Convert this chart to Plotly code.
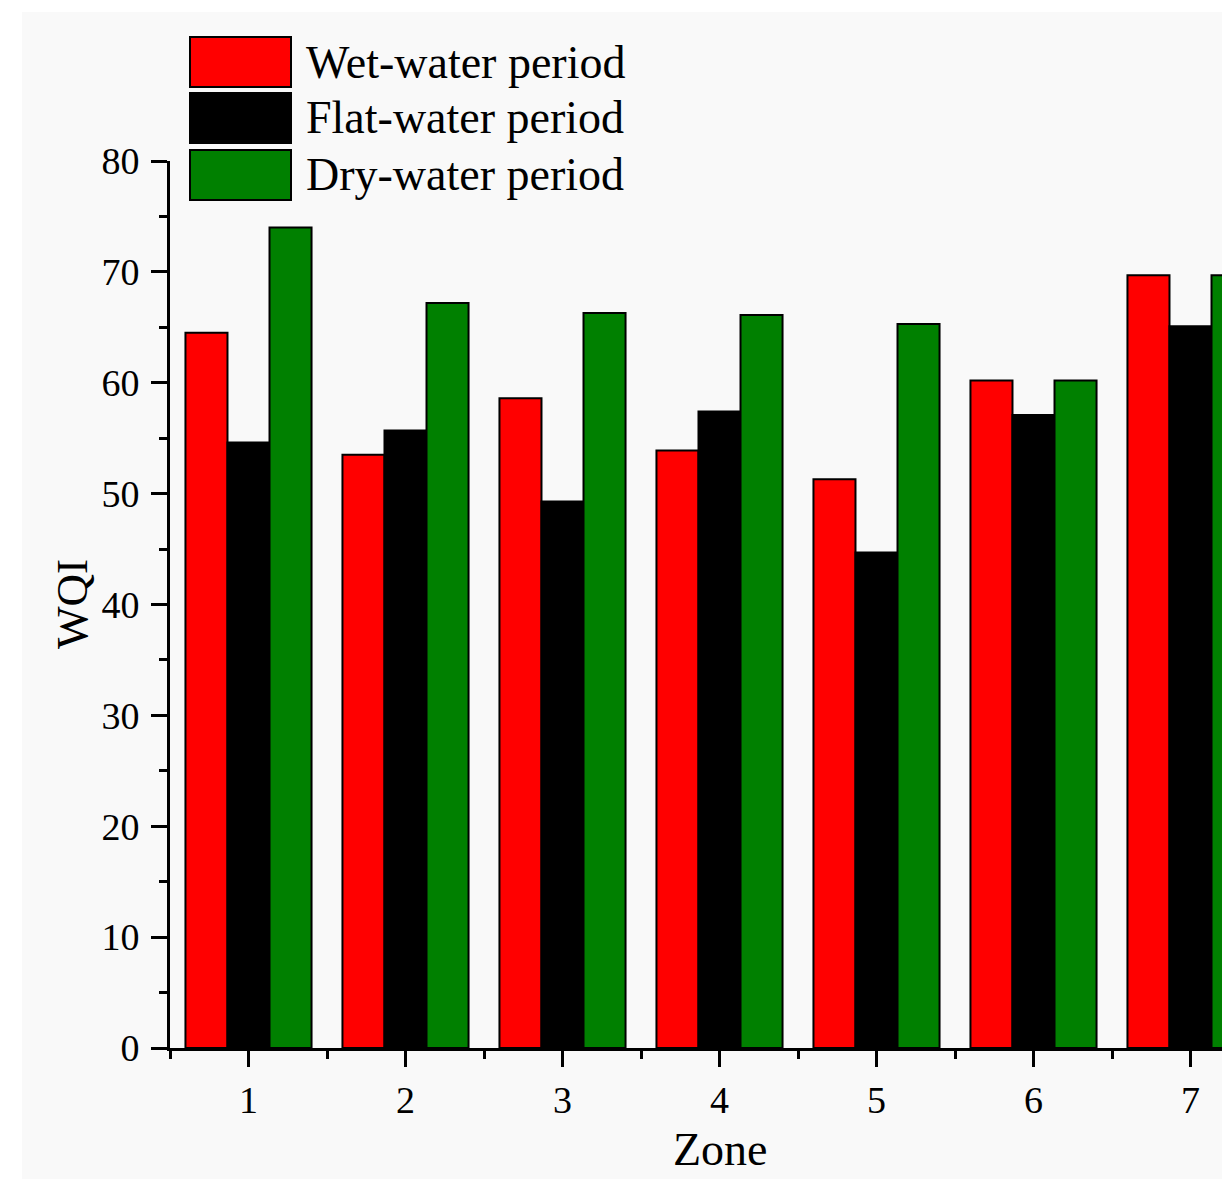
import plotly.graph_objects as go

# WQI per zone for the three hydrological periods
zones = [1, 2, 3, 4, 5, 6, 7]
wet_water = [64.5, 53.5, 58.6, 53.9, 51.3, 60.2, 69.7]
flat_water = [54.6, 55.7, 49.3, 57.4, 44.7, 57.1, 65.1]
dry_water = [74.0, 67.2, 66.3, 66.1, 65.3, 60.2, 69.7]

series_names = ["Wet-water period", "Flat-water period", "Dry-water period"]
series_colors = ["#ff0000", "#000000", "#008000"]
series_values = [wet_water, flat_water, dry_water]

y_ticks = [0, 10, 20, 30, 40, 50, 60, 70, 80]

W, H = 1222, 1179
ML, MR, MT, MB = 170, 0, 161, 131
PW, PH = W - ML - MR, H - MT - MB
FONT = "Liberation Serif, Times New Roman, serif"
BG = "#f9f9f9"


def px_x(px):
    return (px - ML) / PW


def px_y(py):
    return (H - MB - py) / PH


fig = go.Figure()
for name, color, vals in zip(series_names, series_colors, series_values):
    fig.add_trace(go.Bar(
        x=zones, y=vals, name=name,
        marker=dict(color=color, line=dict(color="black", width=2)),
        showlegend=False,
    ))

shapes = [
    # faint page tone behind the figure
    dict(type="rect", xref="paper", yref="paper", layer="below",
         x0=px_x(22), x1=px_x(W + 5), y0=px_y(H + 5), y1=px_y(12),
         fillcolor=BG, line=dict(width=0)),
]
annotations = []

# hand-built legend with large swatches
legend_rows = [62, 118, 175]
for name, color, cy in zip(series_names, series_colors, legend_rows):
    shapes.append(dict(type="rect", xref="paper", yref="paper",
                       x0=px_x(190), x1=px_x(291), y0=px_y(cy + 25), y1=px_y(cy - 25),
                       fillcolor=color, line=dict(color="black", width=2)))
    annotations.append(dict(xref="paper", yref="paper", x=px_x(304), y=px_y(cy),
                            xanchor="left", yanchor="middle", showarrow=False,
                            text=name, font=dict(family=FONT, size=46, color="black")))

# axis titles
annotations.append(dict(xref="paper", yref="paper", x=px_x(720), y=px_y(1177),
                        xanchor="center", yanchor="bottom", showarrow=False,
                        text="Zone", font=dict(family=FONT, size=46, color="black")))
annotations.append(dict(xref="paper", yref="paper", x=px_x(72), y=px_y(604),
                        xanchor="center", yanchor="middle", showarrow=False,
                        textangle=-90,
                        text="WQI", font=dict(family=FONT, size=45, color="black")))

fig.update_layout(
    width=W, height=H,
    margin=dict(l=ML, r=MR, t=MT, b=MB, pad=0),
    paper_bgcolor="white", plot_bgcolor=BG,
    barmode="group", bargap=0.197, bargroupgap=0,
    font=dict(family=FONT, color="black"),
    shapes=shapes, annotations=annotations,
)

fig.update_xaxes(
    range=[0.5, 0.5 + PW / 157.0],
    tickmode="array", tickvals=zones, ticktext=[str(z) for z in zones],
    ticks="outside", ticklen=16, tickwidth=3, tickcolor="black",
    minor=dict(ticks="outside", ticklen=8, tickwidth=3, tickcolor="black",
               tickmode="array", tickvals=[z - 0.5 for z in zones] + [7.5]),
    showline=True, linewidth=3, linecolor="black",
    showgrid=False, zeroline=False,
    tickfont=dict(family=FONT, size=38),
)

fig.update_yaxes(
    range=[0, 80],
    tickmode="array", tickvals=y_ticks,
    ticks="outside", ticklen=16, tickwidth=3, tickcolor="black",
    minor=dict(ticks="outside", ticklen=8, tickwidth=3, tickcolor="black",
               tickmode="array", tickvals=[t + 5 for t in y_ticks[:-1]]),
    showline=True, linewidth=3, linecolor="black",
    showgrid=False, zeroline=False,
    tickfont=dict(family=FONT, size=38),
    ticklabelstandoff=4,
)

fig.write_html("out.html")
